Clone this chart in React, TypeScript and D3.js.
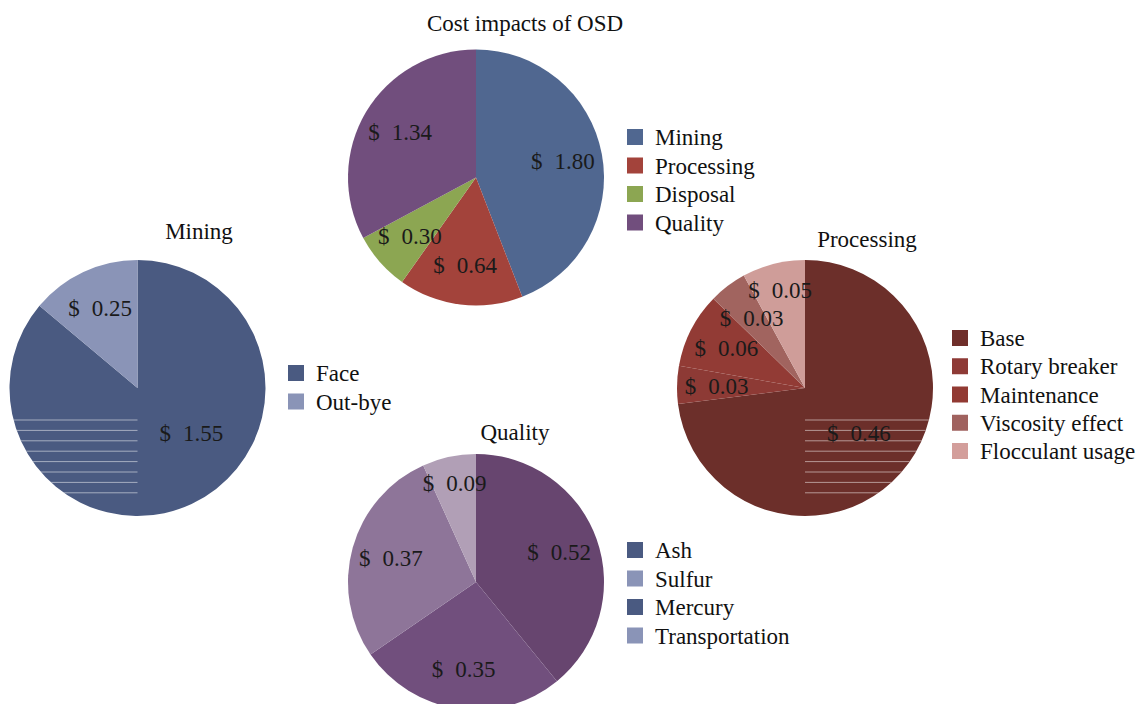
import React from "react";
import * as d3 from "d3";

// ---- data ----
const mainCategories = ["Mining", "Processing", "Disposal", "Quality"];
const mainValues = [1.8, 0.64, 0.3, 1.34];
const mainColors = ["#506790", "#a3433b", "#8ca652", "#714e7d"];

const miningCategories = ["Face", "Out-bye"];
const miningValues = [1.55, 0.25];
const miningColors = ["#4a5a81", "#8a94b7"];

const processingCategories = ["Base", "Rotary breaker", "Maintenance", "Viscosity effect", "Flocculant usage"];
const processingValues = [0.46, 0.03, 0.06, 0.03, 0.05];
const processingColors = ["#6c2f2a", "#8d3a35", "#923b35", "#a1645f", "#cf9d99"];
const processingLegendColors = ["#6f2e2a", "#8e3a36", "#923a33", "#a0625f", "#d39e9b"];

const qualityCategories = ["Ash", "Sulfur", "Mercury", "Transportation"];
const qualityValues = [0.52, 0.35, 0.37, 0.09];
const qualityColors = ["#67456f", "#714f7d", "#8e7599", "#b19fb6"];
const qualityLegendColors = ["#4a5a81", "#8a94b7", "#4a5a81", "#8a94b7"];

const titles = ["Cost impacts of OSD", "Mining", "Processing", "Quality"];

// ---- layout ----
const W = 1143;
const H = 704;
const R = 128;
const FONT = "'Liberation Serif', 'Times New Roman', serif";
const FS = 23;

type PieSpec = {
  title: string;
  cats: string[];
  vals: number[];
  colors: string[];
  legendColors: string[];
  cx: number;
  cy: number;
  titleX: number;
  titleY: number;
  legendX: number;
  legendY: number;
  legendStep: number;
  stripes?: "left" | "right";
};

const pies: PieSpec[] = [
  {
    title: titles[0], cats: mainCategories, vals: mainValues, colors: mainColors, legendColors: mainColors,
    cx: 476, cy: 177.5, titleX: 525, titleY: 31, legendX: 627, legendY: 137, legendStep: 28.5,
  },
  {
    title: titles[1], cats: miningCategories, vals: miningValues, colors: miningColors, legendColors: miningColors,
    cx: 137.5, cy: 388, titleX: 199, titleY: 239, legendX: 288, legendY: 373, legendStep: 28.5, stripes: "left",
  },
  {
    title: titles[2], cats: processingCategories, vals: processingValues, colors: processingColors,
    legendColors: processingLegendColors,
    cx: 805, cy: 388, titleX: 867, titleY: 247, legendX: 952, legendY: 338, legendStep: 28.25, stripes: "right",
  },
  {
    title: titles[3], cats: qualityCategories, vals: qualityValues, colors: qualityColors, legendColors: qualityLegendColors,
    cx: 476, cy: 582, titleX: 515, titleY: 440, legendX: 627, legendY: 550, legendStep: 28.5,
  },
];

// "best fit"-like label placement
function labelPlacement(frac: number, mid: number, isLast: boolean) {
  const big = Math.PI * (130 / 180);
  if (frac > 0.6) return { r: R * 0.55, a: Math.min(mid, big) };
  if (isLast && frac < 0.1) return { r: R * 0.79, a: mid };
  return { r: R * 0.69, a: mid };
}

function Pie({ spec, idx }: { spec: PieSpec; idx: number }) {
  const total = d3.sum(spec.vals);
  const arcs = d3.pie<number>().sort(null).value((d) => d)(spec.vals);
  const arc = d3.arc<d3.PieArcDatum<number>>().innerRadius(0).outerRadius(R);
  const clipId = `clip-${idx}`;
  const stripeYs = d3.range(8).map((i) => 32 + i * 10.4);
  return (
    <g>
      <defs>
        <clipPath id={clipId}>
          <circle cx={spec.cx} cy={spec.cy} r={R} />
        </clipPath>
      </defs>
      <g transform={`translate(${spec.cx},${spec.cy})`}>
        {arcs.map((a, i) => (
          <path key={i} d={arc(a) || ""} fill={spec.colors[i]} />
        ))}
      </g>
      {spec.stripes && (
        <g clipPath={`url(#${clipId})`}>
          {stripeYs.map((dy, i) => (
            <line
              key={i}
              x1={spec.stripes === "left" ? spec.cx - R : spec.cx}
              x2={spec.stripes === "left" ? spec.cx : spec.cx + R}
              y1={spec.cy + dy}
              y2={spec.cy + dy}
              stroke="#ffffff"
              strokeOpacity={0.5}
              strokeWidth={1}
            />
          ))}
        </g>
      )}
      <g transform={`translate(${spec.cx},${spec.cy})`}>
        {arcs.map((a, i) => {
          const frac = a.value / total;
          const mid = (a.startAngle + a.endAngle) / 2;
          const p = labelPlacement(frac, mid, i === arcs.length - 1);
          const x = Math.sin(p.a) * p.r;
          const y = -Math.cos(p.a) * p.r;
          return (
            <text key={i} x={x} y={y} dy="0.35em" textAnchor="middle" fontFamily={FONT} fontSize={FS} fill="#1a1a1a">
              <tspan>$</tspan>
              <tspan dx={12}>{d3.format(".2f")(a.value)}</tspan>
            </text>
          );
        })}
      </g>
      <text x={spec.titleX} y={spec.titleY} textAnchor="middle" fontFamily={FONT} fontSize={FS} fill="#111">
        {spec.title}
      </text>
      {spec.cats.map((c, i) => {
        const y = spec.legendY + i * spec.legendStep;
        return (
          <g key={c}>
            <rect x={spec.legendX} y={y - 8} width={16} height={16} fill={spec.legendColors[i]} />
            <text x={spec.legendX + 28} y={y} dy="0.35em" fontFamily={FONT} fontSize={FS} fill="#111">
              {c}
            </text>
          </g>
        );
      })}
    </g>
  );
}

export default function App() {
  return (
    <svg
      width={W}
      height={H}
      style={{ position: "absolute", left: 0, top: 0, background: "#ffffff" }}
    >
      <rect x={0} y={0} width={W} height={H} fill="#ffffff" />
      {pies.map((p, i) => (
        <Pie key={i} spec={p} idx={i} />
      ))}
    </svg>
  );
}
